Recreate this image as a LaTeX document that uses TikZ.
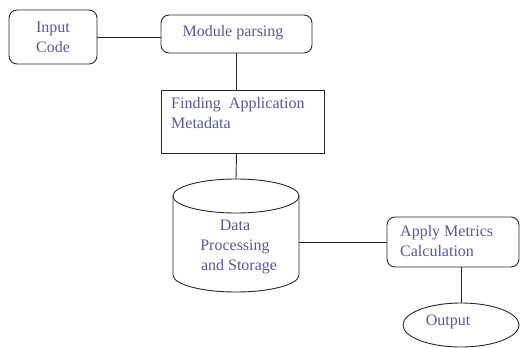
\documentclass[tikz,border=0pt]{standalone}
\usepackage{fontspec}
\setmainfont{Liberation Serif}
\usetikzlibrary{shapes.geometric}
\definecolor{txt}{RGB}{88,88,150}
\definecolor{ln}{RGB}{40,40,40}
\tikzset{
  every node/.style={font=\fontsize{16}{20}\selectfont, text=txt},
  rbox/.style={draw=ln, line width=0.9pt, rounded corners=8pt, inner sep=0pt},
  sbox/.style={draw=ln, line width=0.9pt, inner sep=0pt},
  conn/.style={draw=ln, line width=0.9pt},
  lbl/.style={inner sep=0pt, align=left, anchor=north west},
}
\begin{document}
\begin{tikzpicture}[x=1pt,y=-1pt]
\useasboundingbox (0,0) rectangle (520,348);
% Input Code
\node[rbox, minimum width=88pt, minimum height=54pt, align=center] (inp) at (53,37) {Input\\Code};
% Module parsing
\node[rbox, minimum width=151pt, minimum height=38pt] (mod) at (236.5,34) {};
\node[inner sep=0pt] (modt) at (233,33) {Module parsing};
% Finding Application Metadata
\node[sbox, minimum width=163pt, minimum height=63pt] (find) at (242.5,121.5) {};
\node[lbl] (findt) at (171,97) {Finding\ \ Application\\Metadata};
% Cylinder
\draw[conn] (173,196) -- (173,275) arc[start angle=180,end angle=0,x radius=63,y radius=17] -- (299,196);
\draw[conn] (236,196) ellipse[x radius=63, y radius=17];
\coordinate (cyltop) at (236,179);
\coordinate (cylright) at (299,242);
\node[align=center, inner sep=0pt] (cyl) at (235,247) {Data\\Processing\\\ \ and Storage};
% Apply Metrics
\node[rbox, minimum width=132pt, minimum height=50pt] (app) at (453,242) {};
\node[lbl] (appt) at (400,225) {Apply Metrics\\Calculation};
% Output
\node[draw=ln, line width=0.9pt, ellipse, minimum width=116pt, minimum height=44pt, inner sep=0pt] (out) at (461,325) {};
\node[inner sep=0pt] (outt) at (448,322) {Output};
% connectors
\draw[conn] (inp.east) -- (inp.east -| mod.west);
\draw[conn] (mod.south) -- (find.north -| mod.south);
\draw[conn] (find.south -| mod.south) -- (cyltop);
\draw[conn] (cylright) -- (app.west);
\draw[conn] (app.south -| out.north) -- (out.north);
\end{tikzpicture}
\end{document}
